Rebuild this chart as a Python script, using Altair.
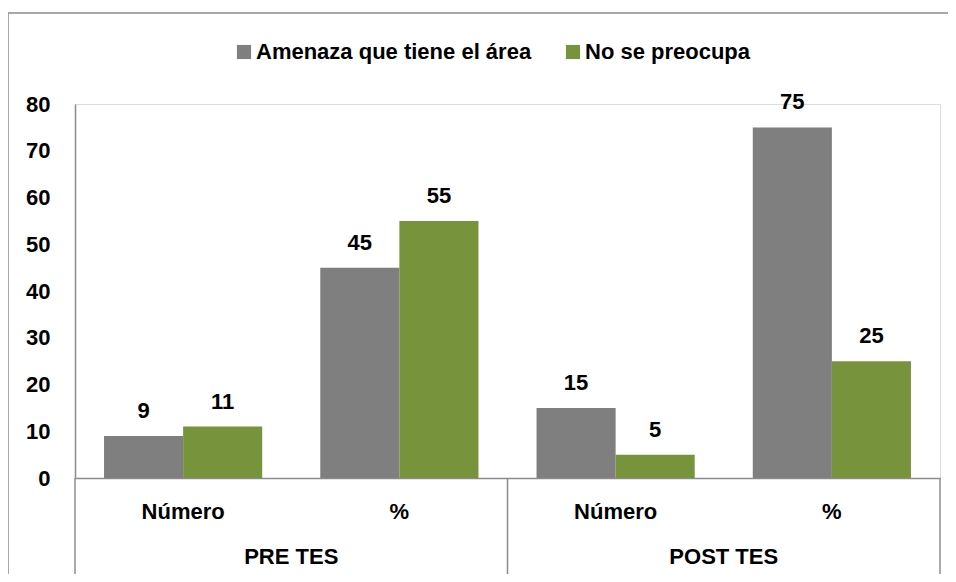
import altair as alt
import pandas as pd

groups = ["PRE TES", "PRE TES", "POST TES", "POST TES"]
subs = ["Número", "%", "Número", "%"]
series_names = ["Amenaza que tiene el área", "No se preocupa"]
amenaza = [9, 45, 15, 75]
no_preocupa = [11, 55, 5, 25]
colors = ["#7F7F7F", "#77933C"]

FONT = "Liberation Sans Narrow, Arial Narrow, Liberation Sans, Arial"
W, H = 865, 374

keys = [f"{g}|{s}" for g, s in zip(groups, subs)]
rows = []
for k, a, n in zip(keys, amenaza, no_preocupa):
    rows.append({"key": k, "serie": series_names[0], "valor": a})
    rows.append({"key": k, "serie": series_names[1], "valor": n})
bars_df = pd.DataFrame(rows)
subs_df = pd.DataFrame({"key": keys, "label": subs})
grp_df = pd.DataFrame({"key": [keys[0], keys[2]], "label": ["PRE TES", "POST TES"]})
sep_start = pd.DataFrame({"key": [keys[0], keys[2]]})
sep_end = pd.DataFrame({"key": [keys[3]]})

xscale = alt.Scale(domain=keys, paddingInner=0, paddingOuter=0)
xenc = alt.X("key:N", scale=xscale, sort=keys,
             axis=alt.Axis(labels=False, ticks=False, title=None, domain=True,
                           domainColor="#8C8C8C", domainWidth=1.5))
xoff = alt.XOffset("serie:N", sort=series_names,
                   scale=alt.Scale(domain=series_names, paddingInner=0, paddingOuter=0.367))
yenc = alt.Y("valor:Q", scale=alt.Scale(domain=[0, 80]),
             axis=alt.Axis(values=list(range(0, 81, 10)), grid=False, ticks=False,
                           title=None, labelFont=FONT, labelFontWeight="bold",
                           labelFontSize=22, labelColor="#000000", labelPadding=25,
                           domainColor="#8C8C8C", domainWidth=1.5))

bars = alt.Chart(bars_df).mark_bar().encode(
    x=xenc, xOffset=xoff, y=yenc,
    color=alt.Color("serie:N", sort=series_names,
                    scale=alt.Scale(domain=series_names, range=colors),
                    legend=alt.Legend(title=None, orient="none", legendX=158, legendY=-63,
                                      direction="horizontal", symbolType="square",
                                      symbolSize=200, symbolStrokeWidth=0,
                                      labelFont=FONT, labelFontWeight="bold",
                                      labelFontSize=22, labelColor="#000000",
                                      labelLimit=1000, columnPadding=30, labelOffset=1)),
)

values = alt.Chart(bars_df).mark_text(
    font=FONT, fontWeight="bold", fontSize=22, dy=-13, baseline="bottom", color="#000000"
).encode(x=alt.X("key:N", scale=xscale, sort=keys), xOffset=xoff,
         y=alt.Y("valor:Q"), text="valor:Q")

sub_labels = alt.Chart(subs_df).mark_text(
    font=FONT, fontWeight="bold", fontSize=22, baseline="middle", color="#000000"
).encode(x=alt.X("key:N", scale=xscale, sort=keys), y=alt.value(H + 34), text="label:N")

grp_labels = alt.Chart(grp_df).mark_text(
    font=FONT, fontWeight="bold", fontSize=22, baseline="middle", color="#000000"
).encode(x=alt.X("key:N", scale=xscale, sort=keys, bandPosition=1),
         y=alt.value(H + 79), text="label:N")

seps1 = alt.Chart(sep_start).mark_rule(color="#8C8C8C", strokeWidth=1.5).encode(
    x=alt.X("key:N", scale=xscale, sort=keys, bandPosition=0),
    y=alt.value(H), y2=alt.value(H + 97))
seps2 = alt.Chart(sep_end).mark_rule(color="#8C8C8C", strokeWidth=1.5).encode(
    x=alt.X("key:N", scale=xscale, sort=keys, bandPosition=1),
    y=alt.value(H), y2=alt.value(H + 97))

border = alt.Chart(pd.DataFrame({"a": [0]})).mark_rect(
    fill=None, stroke="#8C8C8C", strokeWidth=1.5
).encode(x=alt.value(-67), x2=alt.value(W + 40), y=alt.value(-91), y2=alt.value(H + 200))

chart = alt.layer(border, bars, values, sub_labels, grp_labels, seps1, seps2).properties(
    width=W, height=H,
    autosize=alt.AutoSizeParams(type="none"),
    padding={"left": 67, "top": 96, "right": 8, "bottom": 96},
).configure_view(stroke=None).configure(background="#FFFFFF")

chart.save("out.html", embed_options={"renderer": "svg", "actions": False})
